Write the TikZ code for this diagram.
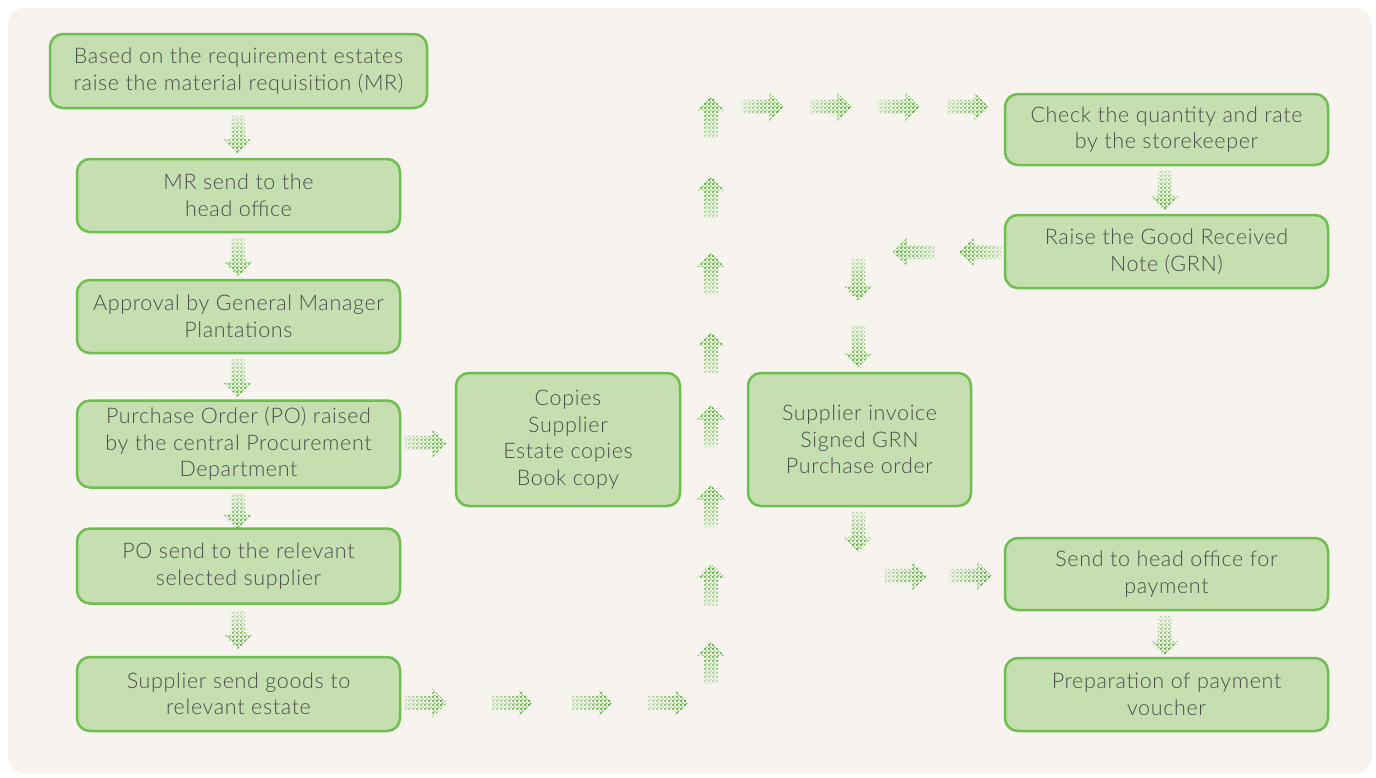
\documentclass[tikz,border=0pt]{standalone}
\usepackage{fontspec}
\setmainfont{Lato}[UprightFont={* Light},LetterSpace=3]
\usetikzlibrary{shapes.arrows,patterns,fadings}

\definecolor{pageBg}{RGB}{247,244,239}
\definecolor{boxFill}{RGB}{197,223,176}
\definecolor{boxLine}{RGB}{112,190,82}
\definecolor{arrowGreen}{RGB}{88,178,58}
\definecolor{textGrey}{RGB}{78,78,78}

% small checker dots for the flow arrows
\pgfdeclarepatternformonly{checker}{\pgfpointorigin}{\pgfpoint{4pt}{4pt}}{\pgfpoint{4pt}{4pt}}{
    \pgfpathrectangle{\pgfpointorigin}{\pgfpoint{2.2pt}{2.2pt}}
    \pgfpathrectangle{\pgfpoint{2pt}{2pt}}{\pgfpoint{2.2pt}{2.2pt}}
    \pgfusepath{fill}}
\tikzfading[name=fadeTail, left color=transparent!70, right color=transparent!0]

\tikzstyle{stepNode}=[draw=boxLine,fill=boxFill,line width=2.5pt,rounded corners=13pt,
    minimum width=323pt,align=center,text=textGrey,font=\fontsize{21.5}{26.5}\selectfont]
\tikzstyle{flowArrow}=[single arrow,inner sep=7pt,single arrow head extend=7pt,minimum height=42pt,
    pattern=checker,pattern color=arrowGreen,path fading=fadeTail]
\tikzstyle{toRight}=[flowArrow]
\tikzstyle{toLeft}=[flowArrow,shape border rotate=180,fading angle=180]
\tikzstyle{toUp}=[flowArrow,shape border rotate=90,fading angle=90]
\tikzstyle{toDown}=[flowArrow,shape border rotate=270,fading angle=270]

\begin{document}
\begin{tikzpicture}[x=1pt,y=-1pt]

    \useasboundingbox (0,0) rectangle (1376,777);
    \fill[pageBg,rounded corners=16pt] (8,8) rectangle (1372,773);

    % left column
    \node[stepNode,minimum width=377pt,minimum height=74pt] (mr) at (238.5,71) {Based on the requirement estates\\raise the material requisition (MR)};
    \node[stepNode,minimum height=73pt] (ho) at (238.5,195.5) {MR send to the\\head office};
    \node[stepNode,minimum height=73pt] (gm) at (238.5,316.5) {Approval by General Manager\\Plantations};
    \node[stepNode,minimum height=87pt] (po) at (238.5,444) {Purchase Order (PO) raised\\by the central Procurement\\Department};
    \node[stepNode,minimum height=75pt] (sel) at (238.5,566) {PO send to the relevant\\selected supplier};
    \node[stepNode,minimum height=74pt] (goods) at (238.5,694) {Supplier send goods to\\relevant estate};

    % middle boxes
    \node[stepNode,minimum width=224pt,minimum height=133pt] (copies) at (568,439.5) {Copies\\Supplier\\Estate copies\\Book copy};
    \node[stepNode,minimum width=223pt,minimum height=133pt] (inv) at (859.5,439.5) {Supplier invoice\\Signed GRN\\Purchase order};

    % right column
    \node[stepNode,minimum height=71pt] (chk) at (1166.5,129.5) {Check the quantity and rate\\by the storekeeper};
    \node[stepNode,minimum height=73pt] (grn) at (1166.5,251.5) {Raise the Good Received\\Note (GRN)};
    \node[stepNode,minimum height=72pt] (pay) at (1166.5,574) {Send to head office for\\payment};
    \node[stepNode,minimum height=73pt] (vou) at (1166.5,694.5) {Preparation of payment\\voucher};

    % flow arrows, left column
    \node[toDown,minimum height=38pt] (d1) at (238,131) {};
    \node[toDown,minimum height=38pt] (d2) at (238,253.5) {};
    \node[toDown,minimum height=38pt] (d3) at (238,374.5) {};
    \node[toDown,minimum height=36pt] (d4) at (238,507.5) {};
    \node[toDown,minimum height=38pt] (d5) at (238,626.5) {};
    \node[toRight] (r1) at (422,443) {};

    % bottom row and up the middle
    \node[toRight] (b1) at (422,703) {};
    \node[toRight] (b2) at (508.5,703) {};
    \node[toRight] (b3) at (588.5,703) {};
    \node[toRight] (b4) at (664.5,703) {};
    \node[toUp] (u1) at (711,666.5) {};
    \node[toUp] (u2) at (711,588.5) {};
    \node[toUp] (u3) at (711,510) {};
    \node[toUp] (u4) at (711,430) {};
    \node[toUp] (u5) at (711,356.5) {};
    \node[toUp] (u6) at (711,277.5) {};
    \node[toUp] (u7) at (711,201) {};
    \node[toUp] (u8) at (711,121) {};

    % top row and the right side
    \node[toRight] (t1) at (759,107) {};
    \node[toRight] (t2) at (827,107) {};
    \node[toRight] (t3) at (895,107) {};
    \node[toRight] (t4) at (964,107) {};
    \node[toDown,minimum height=40pt] (d6) at (1165,187) {};
    \node[toLeft] (l1) at (984,252) {};
    \node[toLeft] (l2) at (917.5,252) {};
    \node[toDown] (d7) at (858,276) {};
    \node[toDown] (d8) at (858,342.5) {};
    \node[toDown,minimum height=40pt] (d9) at (858,528) {};
    \node[toRight] (p1) at (902,576) {};
    \node[toRight] (p2) at (967,576) {};
    \node[toDown,minimum height=40pt] (d10) at (1165,632) {};

\end{tikzpicture}
\end{document}
